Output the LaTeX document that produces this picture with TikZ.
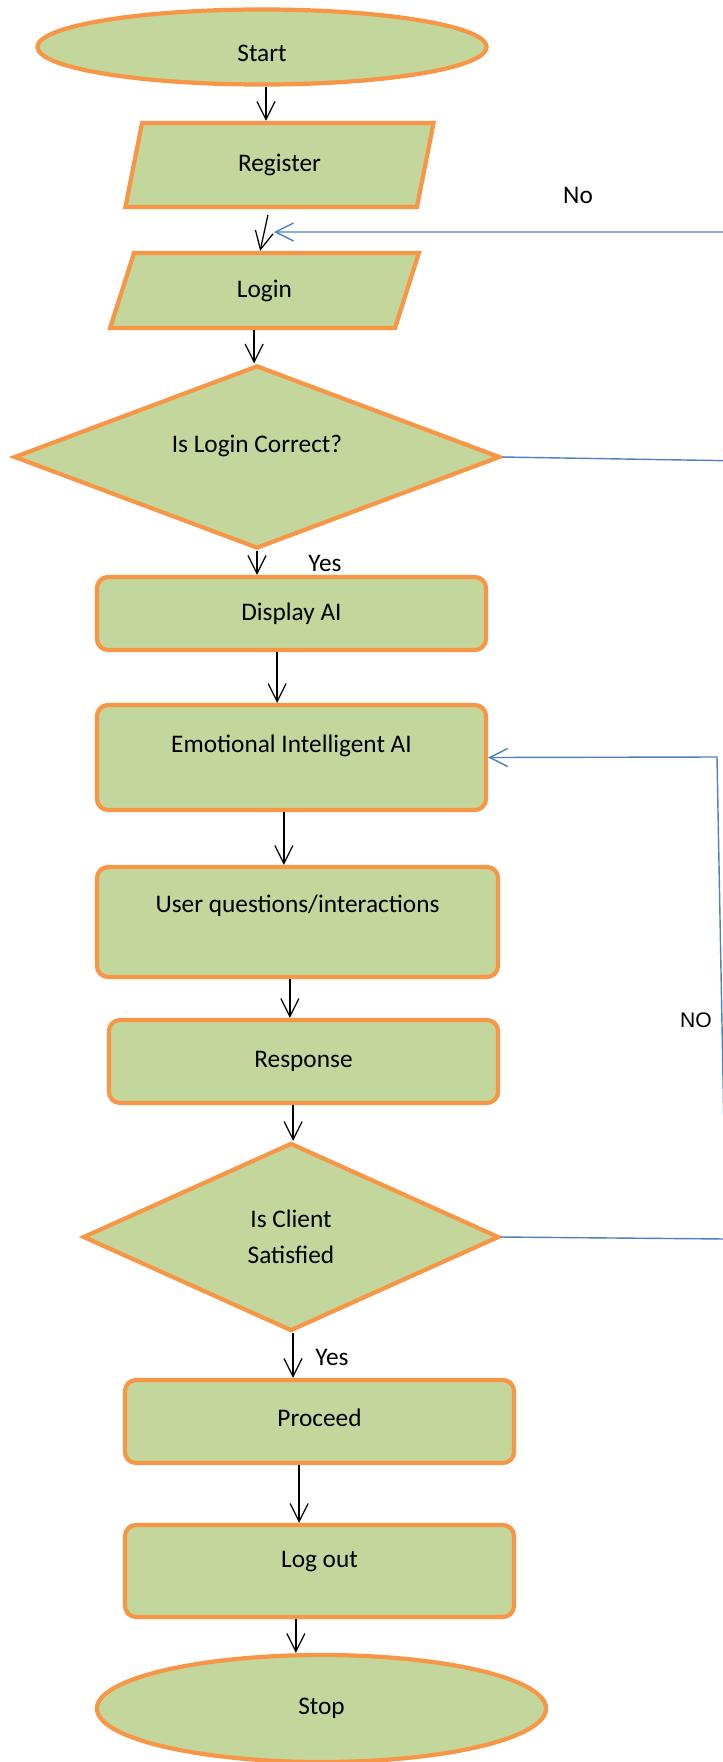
\documentclass[tikz,border=0pt]{standalone}
\usepackage{fontspec}
\setmainfont{Carlito}
\newfontfamily\arialfont{Liberation Sans}
\usepackage{xcolor}
\usepackage{tikz}
\usetikzlibrary{shapes.geometric, arrows.meta}

\definecolor{boxfill}{HTML}{C3D69B}
\definecolor{boxline}{HTML}{F79646}
\definecolor{backline}{HTML}{4F81BD}

\tikzset{
  box/.style={draw=boxline, fill=boxfill, line width=3pt, inner sep=0pt,
    font=\fontsize{18}{22}\selectfont},
  term/.style={box, ellipse},
  io/.style={box, trapezium, trapezium left angle=77, trapezium right angle=103,
    trapezium stretches},
  proc/.style={box, rectangle, rounded corners=0.28cm},
  decide/.style={box, diamond, aspect=2.5},
  lift/.style={text height=12pt, text depth=#1},
  flow/.style={line width=0.9pt, -{Straight Barb[length=0.45cm,width=0.45cm]}},
  back/.style={flow, draw=backline, line width=1pt},
  tag/.style={font=\fontsize{18}{22}\selectfont}
}

\begin{document}
\begin{tikzpicture}[x=0.025cm, y=-0.025cm]
    \useasboundingbox (0,0) rectangle (723,1762);
    \clip (0,0) rectangle (723,1762);

    % main column
    \node[term, minimum width=11.225cm, minimum height=1.875cm, text height=20pt, text depth=0pt] (start) at (262,47) {Start};
    \node[io, minimum width=7.725cm, minimum height=2.1cm] (reg) at (279.5,165) {Register};
    \node[io, minimum width=7.725cm, minimum height=1.875cm] (login) at (264.5,290.5) {Login};
    \node[decide, minimum width=12.15cm, minimum height=4.575cm, lift=18.9pt] (chk1) at (257,457) {Is Login Correct?};
    \node[proc, minimum width=9.725cm, minimum height=1.825cm] (disp) at (291.5,613.5) {Display AI};
    \node[proc, minimum width=9.725cm, minimum height=2.625cm, lift=18.9pt] (ai) at (291.5,757.5) {Emotional Intelligent AI};
    \node[proc, minimum width=10.025cm, minimum height=2.75cm, lift=26pt] (user) at (297.5,922) {User questions/interactions};
    \node[proc, minimum width=9.725cm, minimum height=2.075cm] (resp) at (303.5,1061.5) {Response};
    \node[decide, minimum width=10.4cm, minimum height=4.7cm, align=center,
      font=\fontsize{18}{25.6}\selectfont] (chk2) at (291,1237) {Is Client\\Satisfied};
    \node[proc, minimum width=9.725cm, minimum height=2.075cm, lift=4.7pt] (proceed) at (319.5,1421.5) {Proceed};
    \node[proc, minimum width=9.725cm, minimum height=2.3cm, lift=17.4pt] (logout) at (319.5,1571) {Log out};
    \node[term, minimum width=11.225cm, minimum height=2.675cm] (stop) at (321.5,1708.5) {Stop};

    % branch labels
    \node[tag] (yes1) at (325,563) {Yes};
    \node[tag] (yes2) at (332,1357) {Yes};
    \node[tag] (no1) at (578,195) {No};
    \node[font=\arialfont\fontsize{15}{18}\selectfont] (no2) at (696,1020) {NO};

    % downward flow
    \draw[flow] ([xshift=0.1cm]start.south) -- ([xshift=0.1cm]start.south |- reg.north);
    \draw[flow] ([xshift=-0.29cm,yshift=-0.15cm]reg.south) -- ([xshift=-0.11cm]login.north);
    \draw[flow] ([xshift=-0.26cm]login.south) -- ([xshift=-0.26cm]login.south |- chk1.north);
    \draw[flow] (chk1.south) -- (chk1.south |- disp.north);
    \draw[flow] ([xshift=-0.36cm]disp.south) -- ([xshift=-0.36cm]disp.south |- ai.north);
    \draw[flow] ([xshift=-0.19cm]ai.south) -- ([xshift=-0.19cm]ai.south |- user.north);
    \draw[flow] ([xshift=-0.19cm]user.south) -- ([xshift=-0.19cm]user.south |- resp.north);
    \draw[flow] ([xshift=-0.26cm]resp.south) -- ([xshift=-0.26cm]resp.south |- chk2.north);
    \draw[flow] ([xshift=0.05cm]chk2.south) -- ([xshift=0.05cm]chk2.south |- proceed.north);
    \draw[flow] ([xshift=-0.51cm]proceed.south) -- ([xshift=-0.51cm]proceed.south |- logout.north);
    \draw[flow] ([xshift=-0.59cm]logout.south) -- ([xshift=-0.59cm]logout.south |- stop.north);

    % loops back on "no"
    \coordinate (ne1) at (745,461);
    \coordinate (ne2) at (745,232);
    \coordinate (relogin) at (274,232);
    \draw[back] (chk1.east) -- (ne1) -- (ne2) -- (relogin);

    \coordinate (se1) at (726,1239);
    \coordinate (se2) at (717,757);
    \draw[back] (chk2.east) -- (se1) -- (se2) -- (ai.east);
\end{tikzpicture}
\end{document}
